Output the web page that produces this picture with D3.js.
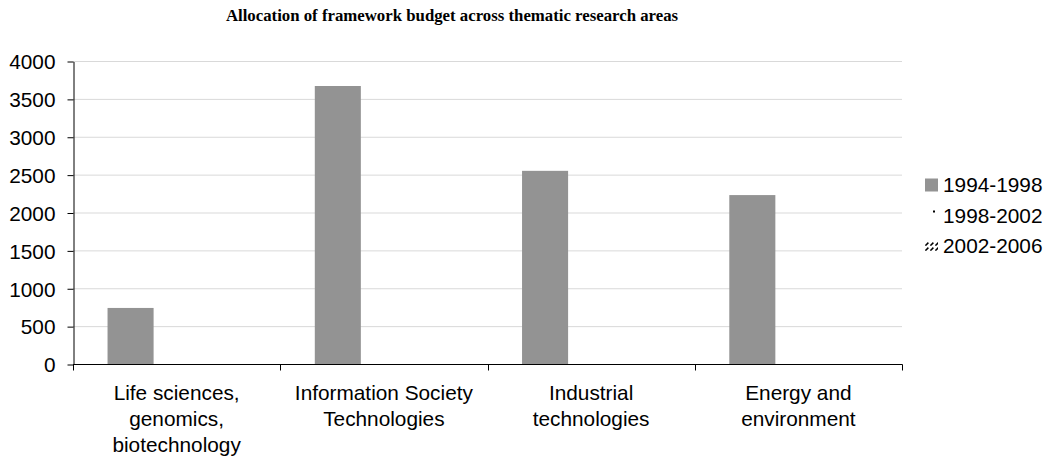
<!DOCTYPE html>
<html>
<head>
<meta charset="utf-8">
<script src="https://d3js.org/d3.v7.min.js"></script>
<style>
  body { margin: 0; background: #fff; }
  text { font-family: "Liberation Sans", Arial, sans-serif; fill: #000; }
</style>
</head>
<body>
<script>
var categories = [
  ["Life sciences,", "genomics,", "biotechnology"],
  ["Information Society", "Technologies"],
  ["Industrial", "technologies"],
  ["Energy and", "environment"]
];
var seriesNames = ["1994-1998", "1998-2002", "2002-2006"];
var values1994 = [740, 3670, 2550, 2230];
var values1998 = [0, 0, 0, 0];
var values2002 = [0, 0, 0, 0];
var yTicks = [0, 500, 1000, 1500, 2000, 2500, 3000, 3500, 4000];

var allSeries = [values1994, values1998, values2002];

var width = 1046, height = 459;
var plotLeft = 73, plotRight = 902, plotTop = 61, plotBottom = 364;
var fontSize = "20.8px";

var svg = d3.select("body").append("svg")
    .attr("width", width)
    .attr("height", height);

var defs = svg.append("defs");
var hatch = defs.append("pattern")
    .attr("id", "hatch")
    .attr("patternUnits", "userSpaceOnUse")
    .attr("x", 925).attr("y", 240)
    .attr("width", 5).attr("height", 5);
hatch.append("path")
    .attr("d", "M0.4,4.6 L3.4,1.6")
    .attr("stroke", "#000")
    .attr("stroke-width", 1.5);

var dots = defs.append("pattern")
    .attr("id", "dots")
    .attr("patternUnits", "userSpaceOnUse")
    .attr("x", 925).attr("y", 209)
    .attr("width", 13).attr("height", 13);
dots.append("rect").attr("x", 6).attr("y", 7).attr("width", 2).attr("height", 2).attr("fill", "#000");

var fills = ["#939393", "url(#dots)", "url(#hatch)"];

var x0 = d3.scaleBand()
    .domain(d3.range(categories.length))
    .range([plotLeft, plotRight])
    .padding(0);

var x1 = d3.scaleBand()
    .domain(d3.range(seriesNames.length))
    .range([0, x0.bandwidth()])
    .paddingInner(0)
    .paddingOuter(0.75);

var y = d3.scaleLinear()
    .domain([0, 4000])
    .range([plotBottom, plotTop]);

// title
svg.append("text")
    .attr("x", 452)
    .attr("y", 21)
    .attr("text-anchor", "middle")
    .style("font-family", "'Liberation Serif', 'Times New Roman', serif")
    .style("font-weight", "bold")
    .style("font-size", "16.8px")
    .text("Allocation of framework budget across thematic research areas");

// gridlines
svg.append("g").selectAll("line")
    .data(yTicks.filter(function (d) { return d > 0; }))
    .enter().append("line")
    .attr("x1", plotLeft).attr("x2", plotRight)
    .attr("y1", function (d) { return y(d) + 0.5; })
    .attr("y2", function (d) { return y(d) + 0.5; })
    .attr("stroke", "#d9d9d9")
    .attr("stroke-width", 1);

// bars
svg.append("g").selectAll("g")
    .data(allSeries)
    .enter().append("g")
    .attr("fill", function (d, i) { return fills[i]; })
    .each(function (vals, si) {
        d3.select(this).selectAll("rect")
            .data(vals)
            .enter().append("rect")
            .attr("x", function (d, ci) { return x0(ci) + x1(si); })
            .attr("width", x1.bandwidth())
            .attr("y", function (d) { return y(d); })
            .attr("height", function (d) { return plotBottom - y(d); });
    });

// y axis
var yAxis = d3.axisLeft(y)
    .tickValues(yTicks)
    .tickFormat(d3.format("d"))
    .tickSize(6)
    .tickPadding(12)
    .tickSizeOuter(0);
var gy = svg.append("g")
    .attr("transform", "translate(" + (plotLeft + 0.5) + ",0.5)")
    .call(yAxis);
gy.selectAll("text").style("font-size", fontSize).style("font-family", "'Liberation Sans', Arial, sans-serif").attr("dy", "0.35em");
gy.select(".domain").attr("stroke", "#000");

// x axis
var gx = svg.append("g").attr("transform", "translate(0," + (plotBottom + 0.5) + ")");
gx.append("line")
    .attr("x1", plotLeft).attr("x2", plotRight + 0.5)
    .attr("stroke", "#000");
gx.selectAll("line.tick")
    .data(d3.range(categories.length + 1))
    .enter().append("line")
    .attr("class", "tick")
    .attr("x1", function (d) { return Math.round(plotLeft + d * x0.step()) + 0.5; })
    .attr("x2", function (d) { return Math.round(plotLeft + d * x0.step()) + 0.5; })
    .attr("y1", 0).attr("y2", 6)
    .attr("stroke", "#000");

var labels = svg.append("g").selectAll("text")
    .data(categories)
    .enter().append("text")
    .attr("text-anchor", "middle")
    .attr("x", function (d, i) { return x0(i) + x0.bandwidth() / 2; })
    .attr("y", 400)
    .style("font-size", fontSize);
labels.selectAll("tspan")
    .data(function (d) { return d; })
    .enter().append("tspan")
    .attr("x", function () { return d3.select(this.parentNode).attr("x"); })
    .attr("dy", function (d, i) { return i === 0 ? 0 : 26; })
    .text(function (d) { return d; });

// legend
var legend = svg.append("g").selectAll("g")
    .data(seriesNames)
    .enter().append("g")
    .attr("transform", function (d, i) { return "translate(925," + (185 + i * 30.5) + ")"; });
legend.append("rect")
    .attr("x", 0)
    .attr("y", function (d, i) { return i === 2 ? -5 : -6.5; })
    .attr("width", 13)
    .attr("height", function (d, i) { return i === 2 ? 11 : 13; })
    .attr("fill", function (d, i) { return fills[i]; });
legend.append("text")
    .attr("x", 18)
    .attr("dy", "0.35em")
    .style("font-size", fontSize)
    .text(function (d) { return d; });
</script>
</body>
</html>
